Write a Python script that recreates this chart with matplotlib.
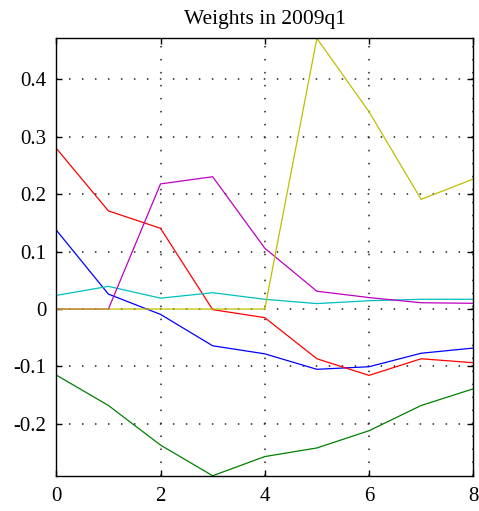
import numpy as np
import matplotlib
matplotlib.use("Agg")
import matplotlib.pyplot as plt

plt.rcParams['font.family'] = ['Liberation Serif', 'DejaVu Serif']
plt.rcParams['axes.unicode_minus'] = False

# lags
x = np.arange(9)

# weights per series
blue = [0.1376, 0.026, -0.0093, -0.064, -0.078, -0.105, -0.1005, -0.077, -0.068]
green = [-0.115, -0.168, -0.237, -0.2904, -0.257, -0.242, -0.212, -0.168, -0.139]
red = [0.280, 0.171, 0.1406, -0.001, -0.015, -0.0866, -0.1156, -0.0866, -0.0935]
cyan = [0.0238, 0.0395, 0.019, 0.0284, 0.017, 0.0095, 0.0145, 0.017, 0.017]
magenta = [0.0, 0.0, 0.218, 0.2305, 0.106, 0.031, 0.020, 0.011, 0.010]
yellow = [0.0, 0.0, 0.0, 0.0, 0.0, 0.4716, 0.3437, 0.191, 0.2265]

series = [blue, green, red, cyan, magenta, yellow]
colors = ['#0000ff', '#008000', '#ff0000', '#00bfbf', '#bf00bf', '#bfbf00']

fig = plt.figure(figsize=(4.79, 5.11), dpi=100)
ax = fig.add_axes([0.1175, 0.069, 0.8705, 0.856])

for s, c in zip(series, colors):
    ax.plot(x, s, color=c, lw=0.9)

ymin = min(min(s) for s in series)
ymax = max(max(s) for s in series)
ax.set_xlim(0, 8)
ax.set_ylim(ymin, ymax)
ax.set_xticks([0, 2, 4, 6, 8])
ax.set_yticks([-0.2, -0.1, 0, 0.1, 0.2, 0.3, 0.4])
ax.set_yticklabels(['-0.2', '-0.1', '0', '0.1', '0.2', '0.3', '0.4'])

ax.grid(True, color='#222222', linestyle=(0, (1, 7.5)), linewidth=1.1)
ax.tick_params(direction='in', length=4, width=1, top=True, right=True,
               labelsize=15)
ax.tick_params(axis='x', pad=8)
ax.tick_params(axis='y', pad=7)
for sp in ax.spines.values():
    sp.set_linewidth(1.0)

ax.set_title('Weights in 2009q1', fontsize=15.5, pad=10)

fig.savefig('out.png', dpi=100)
